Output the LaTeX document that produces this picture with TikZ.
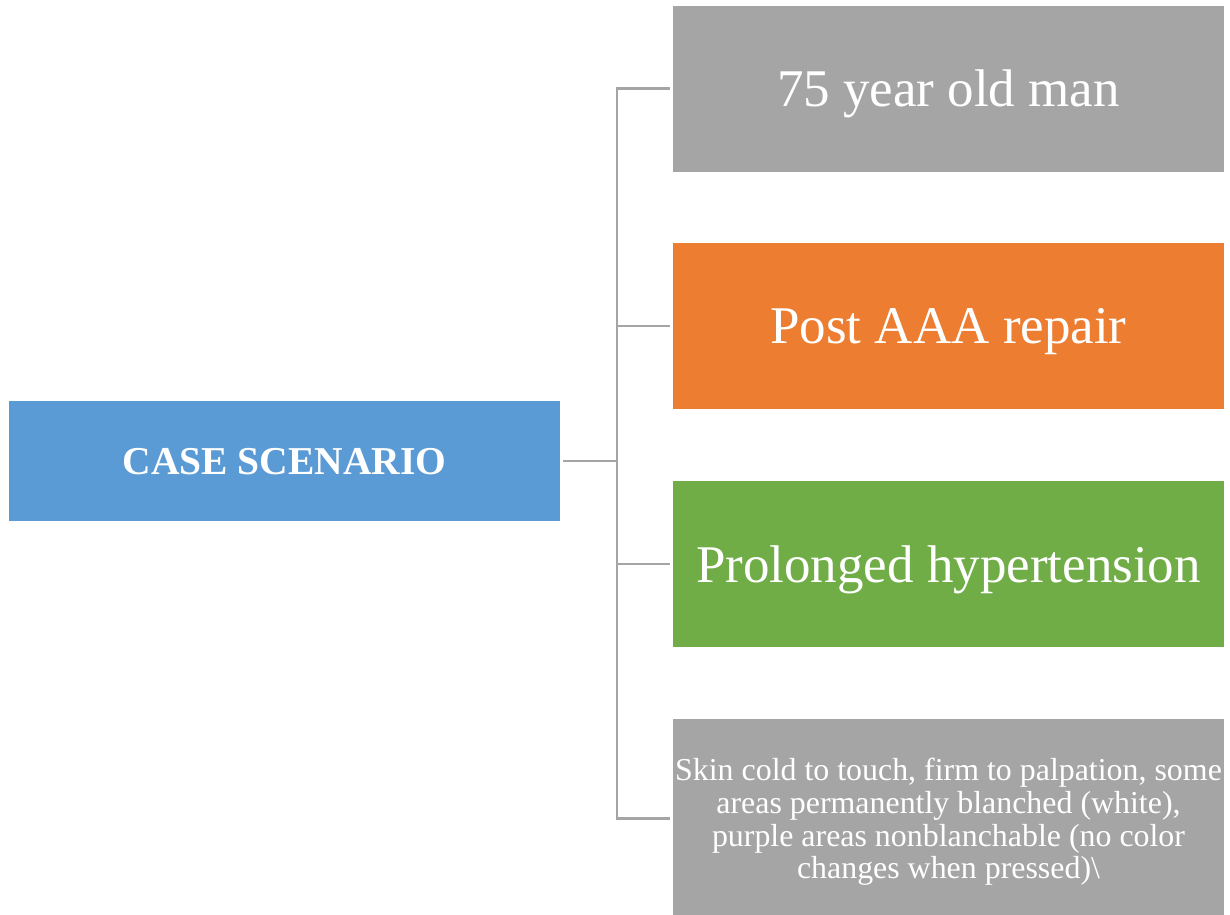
\documentclass[tikz,border=0pt]{standalone}
\usepackage{fontspec}
\setmainfont{Liberation Serif}
\definecolor{caseblue}{HTML}{5B9BD5}
\definecolor{boxgray}{HTML}{A5A5A5}
\definecolor{boxorange}{HTML}{ED7D31}
\definecolor{boxgreen}{HTML}{70AD47}
\definecolor{linkgray}{HTML}{A5A5A5}
\begin{document}
\begin{tikzpicture}[x=1pt,y=-1pt,
  box/.style={minimum width=551pt, minimum height=166pt, inner sep=0pt,
    text=white, align=center, text depth=0pt, font=\fontsize{53}{60}\selectfont},
  link/.style={draw=linkgray, line width=2.5pt, line join=miter}]
\useasboundingbox (0,0) rectangle (1230,914);
\clip (0,0) rectangle (1230,914);
\fill[white] (0,0) rectangle (1230,914);

% root node
\node[box, fill=caseblue, minimum height=120pt,
  font=\fontsize{39.5}{46}\selectfont\bfseries] (case) at (284.5,461) {CASE SCENARIO};

% detail boxes
\node[box, fill=boxgray]   (age)  at (948.5,88.5) {75 year old man};
\node[box, fill=boxorange] (post) at (948.5,326)  {Post AAA repair};
\node[box, fill=boxgreen]  (hyp)  at (948.5,564)  {Prolonged hypertension};
\node[box, fill=boxgray, minimum height=199pt,
  font=\fontsize{31.9}{32.7}\selectfont] (skin) at (948.5,818.5)
  {Skin cold to touch, firm to palpation, some\\
   areas permanently blanched (white),\\
   purple areas nonblanchable (no color\\
   changes when pressed)\textbackslash};

% bracket connector
\coordinate (trunk) at (617,461);
\draw[link] ([xshift=3pt]case.east) -- (trunk);
\draw[link] ([xshift=-3pt]age.west) -- (age.west -| trunk)
  -- (skin.west -| trunk) -- ([xshift=-3pt]skin.west);
\draw[link] (post.west -| trunk) -- ([xshift=-3pt]post.west);
\draw[link] (hyp.west -| trunk) -- ([xshift=-3pt]hyp.west);
\end{tikzpicture}
\end{document}
